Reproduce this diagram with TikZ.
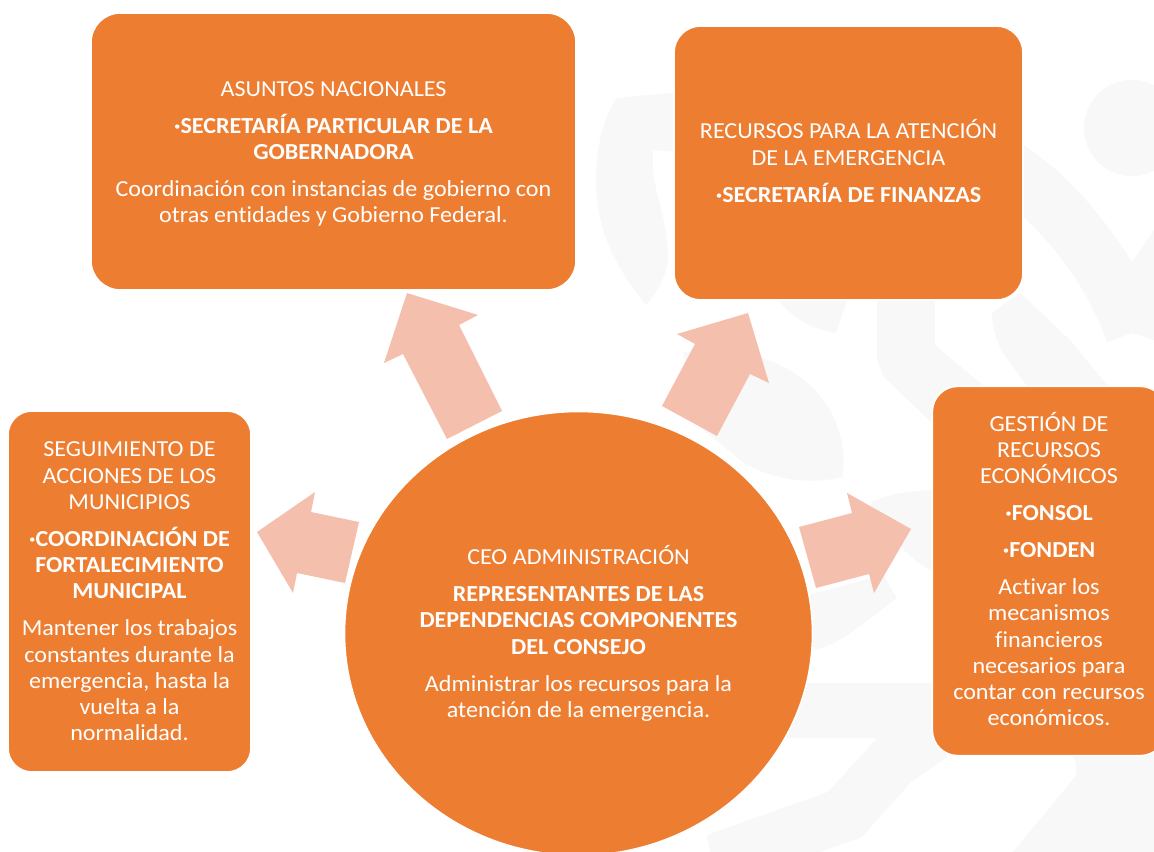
\documentclass[tikz,border=0pt]{standalone}
\usepackage{fontspec}
\setmainfont[FakeStretch=1.05,Ligatures=CommonOff]{Carlito}
\usetikzlibrary{shapes.geometric}
\definecolor{naranja}{HTML}{ED7D31}
\definecolor{flecha}{HTML}{F5BFAE}
\definecolor{marca}{HTML}{F8F8F8}
\tikzset{
  caja/.style={draw=white,line width=1.2pt,fill=naranja,text=white,align=center,inner sep=0pt,outer sep=0pt,
    font=\fontsize{17.2}{19.7}\selectfont},
  circulo/.style={caja,ellipse},
  bloque/.style={fill=flecha,draw=none},
  agua/.style={fill=marca,draw=none}
}
\begin{document}
\begin{tikzpicture}[x=0.75pt,y=-0.75pt]
\useasboundingbox (0,0) rectangle (1154,852);
\clip (0,0) rectangle (1154,852);
\fill[white] (0,0) rectangle (1154,852);
% marca de agua
\fill[marca] (1132,128) circle[radius=36pt];
\path[agua] (617,98) -- (680,92) -- (680,152) -- (653,150) .. controls (650,190) and (668,215) .. (668,257) .. controls (668,275) and (655,295) .. (646,305) .. controls (610,260) and (596,225) .. (596,177) .. controls (596,145) and (605,115) .. (617,98) -- cycle;
\path[agua] (780,295) -- (849,295) -- (836,333) .. controls (815,330) and (795,320) .. (780,302) -- cycle;
\path[agua] (877,295) -- (935,295) -- (935,345) -- (985,387) -- (985,430) -- (932,423) -- (884,377) -- (877,360) -- cycle;
\path[agua] (1023,145) .. controls (1070,175) and (1105,220) .. (1132,262) -- (1154,230) -- (1154,340) -- (1132,333) -- (1107,342) .. controls (1090,295) and (1060,250) .. (1023,217) -- cycle;
\path[agua] (1020,293) -- (1070,340) -- (1111,390) -- (1030,390) -- (1001,350) .. controls (995,335) and (992,325) .. (992,313) -- cycle;
\path[agua] (683,352) .. controls (740,345) and (800,360) .. (830,410) .. controls (845,440) and (845,460) .. (842,477) .. controls (810,485) and (770,480) .. (740,460) -- (700,427) -- cycle;
\path[agua] (870,503) .. controls (885,495) and (910,490) .. (940,490) -- (940,575) .. controls (915,565) and (890,540) .. (870,503) -- cycle;
\path[agua] (897,598) .. controls (860,625) and (840,645) .. (813,650) -- (790,650) -- (790,600) -- (883,575) -- cycle;
\path[agua] (760,683) -- (945,683) -- (947,757) -- (910,783) -- (862,837) -- (820,852) -- (710,852) -- (707,835) -- (828,792) -- (877,738) -- (760,738) -- cycle;
\path[agua] (1073,757) .. controls (1077,762) and (1077,770) .. (1075,777) -- (1013,852) -- (1154,852) -- (1154,750) -- (1073,750) -- cycle;
% nodos
\node[caja,rounded corners=22pt,minimum width=363.75pt,minimum height=207.75pt] (nac) at (333.5,151.5)
 {\rule{0pt}{15pt}ASUNTOS NACIONALES\\[8pt]\bfseries ·SECRETARÍA PARTICULAR DE LA\\\bfseries GOBERNADORA\\[8pt]Coordinación con instancias de gobierno con\\otras entidades y Gobierno Federal.};
\node[caja,rounded corners=20pt,minimum width=261.75pt,minimum height=205.5pt] (rec) at (848.5,163)
 {RECURSOS PARA LA ATENCIÓN\\DE LA EMERGENCIA\\[8pt]\bfseries ·SECRETARÍA DE FINANZAS\vspace{3pt}};
\node[caja,rounded corners=18pt,minimum width=182.25pt,minimum height=270.75pt] (mun) at (129.5,591.5)
 {SEGUIMIENTO DE\\ACCIONES DE LOS\\MUNICIPIOS\\[8pt]\bfseries ·COORDINACIÓN DE\\\bfseries FORTALECIMIENTO\\\bfseries MUNICIPAL\\[8pt]Mantener los trabajos\\constantes durante la\\emergencia, hasta la\\vuelta a la\\normalidad.};
\node[caja,rounded corners=19pt,minimum width=175pt,minimum height=277pt] (ges) at (1049,571)
 {GESTIÓN DE\\RECURSOS\\ECONÓMICOS\\[8pt]\bfseries ·FONSOL\\[8pt]\bfseries ·FONDEN\\[8pt]Activar los\\mecanismos\\financieros\\necesarios para\\contar con recursos\\económicos.\vspace{3pt}};
\node[circulo,minimum width=351pt,minimum height=333pt] (ceo) at (578.5,633.5)
 {CEO ADMINISTRACIÓN\\[8pt]\bfseries REPRESENTANTES DE LAS\\\bfseries DEPENDENCIAS COMPONENTES\\\bfseries DEL CONSEJO\\[8pt]Administrar los recursos para la\\atención de la emergencia.};
% flechas de bloque
\fill[bloque] (407,293) -- (478,315) -- (459,325) -- (502,411) -- (447,439) -- (403,354) -- (384,363) -- cycle;
\fill[bloque] (257,532) -- (315,492) -- (311,512) -- (359,522) -- (345,583) -- (297,573) -- (293,593) -- cycle;
\fill[bloque] (748,313) -- (677,334) -- (695,344) -- (662,406) -- (717,436) -- (750,374) -- (769,383) -- cycle;
\fill[bloque] (799,527) -- (852,513) -- (847,493) -- (911,529) -- (874,593) -- (869,574) -- (816,588) -- cycle;
\end{tikzpicture}
\end{document}
